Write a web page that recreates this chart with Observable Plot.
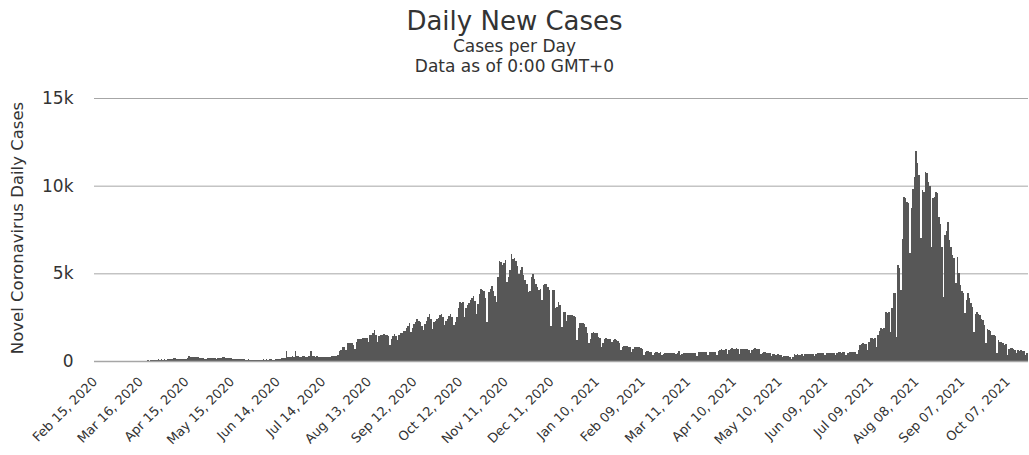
<!DOCTYPE html>
<html><head><meta charset="utf-8">
<script src="https://cdn.jsdelivr.net/npm/d3@7"></script>
<script src="https://cdn.jsdelivr.net/npm/@observablehq/plot@0.6"></script>
<style>
body{margin:0;background:#fff;font-family:"DejaVu Sans",Verdana,sans-serif;}
#wrap{position:relative;width:1029px;height:455px;overflow:hidden;}
.t{position:absolute;left:0;width:1029px;text-align:center;color:#333;white-space:nowrap;}
#chart{position:absolute;left:0;top:85px;}
</style></head><body>
<div id="wrap">
<div class="t" style="top:8px;font-size:26px;line-height:26px">Daily New Cases</div>
<div class="t" style="top:38px;font-size:17px;line-height:17px">Cases per Day</div>
<div class="t" style="top:58px;font-size:17px;line-height:17px">Data as of 0:00 GMT+0</div>
<div id="chart"></div>
</div>
<script>
const startDate = "2020-02-15";
const yLabel = "Novel Coronavirus Daily Cases";
const yTicks = [0, 5000, 10000, 15000];
const tickLabels = ["Feb 15, 2020","Mar 16, 2020","Apr 15, 2020","May 15, 2020","Jun 14, 2020","Jul 14, 2020","Aug 13, 2020","Sep 12, 2020","Oct 12, 2020","Nov 11, 2020","Dec 11, 2020","Jan 10, 2021","Feb 09, 2021","Mar 11, 2021","Apr 10, 2021","May 10, 2021","Jun 09, 2021","Jul 09, 2021","Aug 08, 2021","Sep 07, 2021","Oct 07, 2021"];

const feb2020 = [0,0,0,0,0,0,0,0,0,0,0,0,0,0,0];
const mar2020 = [0,1,0,0,0,0,0,0,0,0,2,1,2,1,10,10,11,8,9,16,30,28,32,45,55,60,85,90,70,100,80];
const apr2020 = [90,80,110,120,100,130,150,160,140,120,110,100,90,110,140,160,300,220,200,240,210,230,200,190,170,150,140,130,160,170];
const may2020 = [150,180,160,170,140,150,170,180,200,230,190,170,160,180,150,120,110,130,120,100,110,90,100,80,70,90,60,70,80,60,70];
const jun2020 = [60,70,80,60,90,70,100,80,90,110,70,80,100,90,120,130,150,180,160,570,250,240,230,260,250,570,300,260,240,230];
const jul2020 = [280,260,240,250,270,550,300,260,240,270,250,230,220,250,240,210,220,200,230,260,280,300,290,350,550,600,800,780,610,1000,1050];
const aug2020 = [1030,1050,900,700,1100,1240,1230,1250,1320,1330,1300,1340,1080,1460,1500,1620,1750,1500,1080,1400,1460,1500,1560,1500,1460,1400,890,1280,1400,1520,1450];
const sep2020 = [1180,1500,1580,1620,1700,1720,1900,2000,2190,1650,1900,2130,2250,2370,2300,2220,2000,1750,2100,2300,2510,2700,2400,1840,2220,2300,2370,2450,2600,2700];
const oct2020 = [2500,2030,2300,2410,2550,2660,2500,2030,2200,2510,3000,3360,3300,3360,2510,3000,3170,3300,3460,3600,3700,3400,2700,3270,3800,4120,4050,3990,3600,2220,3930];
const nov2020 = [4100,4280,4000,3700,3360,4800,5700,5650,5500,5590,5740,4500,4800,5170,6120,5830,5900,5700,5400,4980,5200,5360,4900,4600,4400,3930,3970,4800,4980,4700];
const dec2020 = [4400,4200,4030,4100,3460,4310,4400,4400,4200,4030,2000,4040,4030,3000,3100,3340,3200,1940,2800,2800,2300,2600,2620,2650,2600,2550,2510,1200,1900,2150,2150];
const jan2021 = [2150,2100,1950,1600,1010,1250,1620,1630,1620,1600,1390,1300,810,1000,1250,1290,1260,1250,1240,1080,1200,1240,1200,1150,1000,630,800,870,860,870,820];
const feb2021 = [800,530,700,780,800,790,780,760,700,340,500,550,560,540,530,340,430,490,500,480,490,340,420,450,470,480,460,470];
const mar2021 = [470,450,420,480,590,340,400,430,460,460,470,480,470,460,470,460,300,500,530,520,530,510,530,350,500,530,520,530,510,370,550];
const apr2021 = [640,660,650,600,660,400,600,700,720,710,690,720,700,420,660,680,690,680,670,650,430,600,700,720,710,690,680,400,480,490];
const may2021 = [490,480,470,450,300,380,380,370,380,360,350,250,285,290,280,270,200,100,200,380,370,380,360,370,380,300,380,400,410,400,390];
const jun2021 = [380,300,420,440,430,440,450,440,320,430,470,460,470,480,470,330,460,490,500,480,490,500,350,480,530,540,530,520,540,380];
const jul2021 = [600,900,950,1000,980,950,600,1100,1290,1300,1280,1290,800,1500,1700,1860,1850,1900,2800,2750,2800,1670,3000,3860,3900,1390,5470,5300,4050,6940,9350];
const aug2021 = [9300,9070,9000,6140,8700,9800,10500,11950,11270,10600,7000,9750,9630,10800,10700,10230,10000,6500,9270,9350,9650,9600,8230,7800,6500,3670,7180,7400,7940,6900,6500];
const sep2021 = [6040,5900,4430,5930,5000,4330,4000,3860,2720,3500,3860,3570,3300,3090,1670,2700,2800,2700,2620,2400,2340,2050,1010,1840,1770,1700,1480,1500,1400,440];
const oct2021 = [1180,1100,1100,1050,910,950,340,700,720,720,700,650,440,610,590,600,580,560,350,440];

const values = [].concat(feb2020, mar2020, apr2020, may2020, jun2020, jul2020, aug2020, sep2020, oct2020, nov2020, dec2020,
  jan2021, feb2021, mar2021, apr2021, may2021, jun2021, jul2021, aug2021, sep2021, oct2021);

const start = d3.utcParse("%Y-%m-%d")(startDate);
const data = values.map((v, i) => ({x1: d3.utcDay.offset(start, i), x2: d3.utcDay.offset(start, i + 1), cases: v}));
const parseTick = d3.utcParse("%b %d, %Y");
const tickDates = tickLabels.map(s => d3.utcHour.offset(parseTick(s), 12));
const labelByTime = new Map(tickDates.map((d, i) => [+d, tickLabels[i]]));

const font = '"DejaVu Sans", Verdana, sans-serif';
const plot = Plot.plot({
  width: 1029, height: 370,
  marginLeft: 94, marginRight: 1, marginTop: 13, marginBottom: 94,
  style: {fontFamily: font, color: "#333", background: "#fff", overflow: "visible"},
  x: {type: "utc", domain: [start, d3.utcDay.offset(start, values.length)]},
  y: {domain: [0, 15000]},
  marks: [
    Plot.gridY(yTicks.slice(1), {stroke: "#a6a6a6", strokeOpacity: 1}),
    Plot.rectY(data, {x1: "x1", x2: "x2", y: "cases", fill: "#575757", shapeRendering: "crispEdges"}),
    Plot.ruleY([0], {stroke: "#a6a6a6", strokeWidth: 1.5}),
    Plot.axisY(yTicks, {tickSize: 0, tickPadding: 21, fontSize: 17, label: null,
      tickFormat: d => d === 0 ? "0" : (d / 1000) + "k"}),
    Plot.axisX(tickDates, {tickSize: 0, tickPadding: 18, tickRotate: -45, fontSize: 13, label: null,
      tickFormat: d => labelByTime.get(+d)})
  ]
});
d3.select(plot).append("text")
  .attr("transform", "translate(17,143) rotate(-90)")
  .attr("text-anchor", "middle")
  .attr("dominant-baseline", "central")
  .attr("fill", "#333")
  .style("font-family", font)
  .style("font-size", "16.5px")
  .text(yLabel);
document.getElementById("chart").appendChild(plot);
</script>
</body></html>
